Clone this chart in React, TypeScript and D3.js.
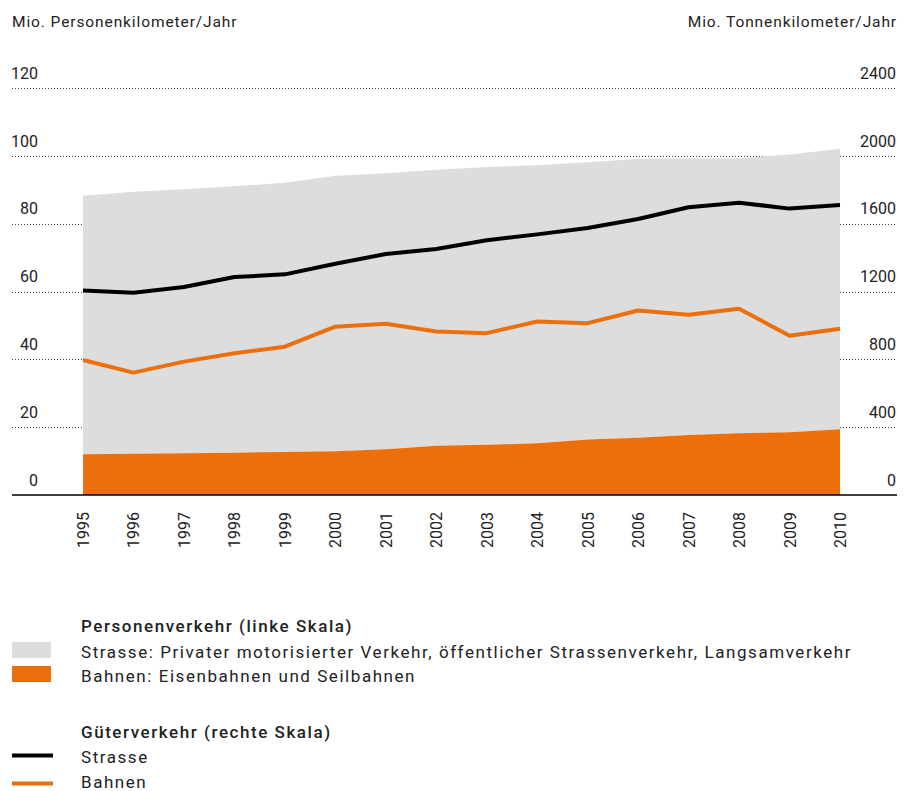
import React from "react";
import * as d3 from "d3";

const years = [1995, 1996, 1997, 1998, 1999, 2000, 2001, 2002, 2003, 2004, 2005, 2006, 2007, 2008, 2009, 2010];
// Personenverkehr (Mio. Personenkilometer/Jahr), left scale
const personRail = [12.0, 12.2, 12.3, 12.5, 12.7, 12.9, 13.5, 14.5, 14.8, 15.3, 16.4, 16.9, 17.7, 18.2, 18.5, 19.4];
const personRoad = [76.3, 77.3, 77.9, 78.6, 79.4, 81.3, 81.4, 81.5, 82.0, 82.0, 81.8, 82.3, 81.6, 81.1, 82.0, 82.8];
// Güterverkehr (Mio. Tonnenkilometer/Jahr), right scale
const freightRoad = [1207, 1193, 1227, 1286, 1302, 1365, 1422, 1452, 1503, 1538, 1576, 1629, 1698, 1725, 1690, 1712];
const freightRail = [797, 722, 787, 836, 875, 993, 1010, 965, 955, 1024, 1014, 1089, 1064, 1099, 940, 981];

const leftTicks = [0, 20, 40, 60, 80, 100, 120];
const rightTicks = [0, 400, 800, 1200, 1600, 2000, 2400];

const FONT = "Roboto, 'DejaVu Sans', sans-serif";
const GREY = "#dddddd";
const ORANGE = "#ec6f0b";
const TEXT = "#222222";

export default function App() {
  const W = 914, H = 791;
  const x = d3.scaleLinear().domain([1995, 2010]).range([83, 840]);
  const yL = d3.scaleLinear().domain([0, 120]).range([495, 88.3]);
  const yR = d3.scaleLinear().domain([0, 2400]).range([495, 88.3]);

  const rows = years.map((yr, i) => ({ yr, rail: personRail[i], road: personRoad[i] }));
  const stack = d3.stack<any>().keys(["rail", "road"])(rows);
  const area = d3.area<any>()
    .x((d: any) => x(d.data.yr))
    .y0((d: any) => yL(d[0]))
    .y1((d: any) => yL(d[1]));

  const lineR = d3.line<number>()
    .x((_, i) => x(years[i]))
    .y((v) => yR(v));

  const LS = 1.55;

  return (
    <svg width={W} height={H} style={{ position: "absolute", left: 0, top: 0 }} fontFamily={FONT}>
      <rect width={W} height={H} fill="#fff" />
      {/* axis titles */}
      <text x={12} y={26.5} fontSize={15.5} fill={TEXT} letterSpacing={0.9}>Mio. Personenkilometer/Jahr</text>
      <text x={897} y={26.5} fontSize={15.5} fill={TEXT} letterSpacing={0.9} textAnchor="end">Mio. Tonnenkilometer/Jahr</text>

      {/* gridlines */}
      {leftTicks.filter((t) => t > 0).map((t) => (
        <line key={t} x1={12} x2={896} y1={Math.round(yL(t)) + 0.5} y2={Math.round(yL(t)) + 0.5}
          stroke="#444" strokeWidth={1} strokeDasharray="1,2" />
      ))}

      {/* areas */}
      <path d={area(stack[1]) || ""} fill={GREY} />
      <path d={area(stack[0]) || ""} fill={ORANGE} />

      {/* lines */}
      <path d={lineR(freightRoad) || ""} fill="none" stroke="#000" strokeWidth={4} strokeLinejoin="round" />
      <path d={lineR(freightRail) || ""} fill="none" stroke={ORANGE} strokeWidth={4} strokeLinejoin="round" />

      {/* baseline */}
      <line x1={12} x2={897} y1={495} y2={495} stroke="#000" strokeWidth={1.5} />

      {/* tick labels */}
      {leftTicks.map((t) => (
        <text key={"l" + t} x={38} y={yL(t) - 9.5} fontSize={16} fill={TEXT} textAnchor="end">{t}</text>
      ))}
      {rightTicks.map((t) => (
        <text key={"r" + t} x={896} y={yR(t) - 9.5} fontSize={16} fill={TEXT} textAnchor="end">{t}</text>
      ))}
      {years.map((yr) => (
        <text key={yr} transform={`translate(${x(yr) + 6},512) rotate(-90)`} fontSize={16} fill={TEXT} textAnchor="end">{yr}</text>
      ))}

      {/* legend */}
      <text x={81} y={632} fontSize={17} fontWeight={500} fill={TEXT} letterSpacing={LS}>Personenverkehr (linke Skala)</text>
      <rect x={12} y={642} width={39} height={16} fill={GREY} />
      <text x={81} y={658} fontSize={17} fill={TEXT} letterSpacing={LS}>Strasse: Privater motorisierter Verkehr, öffentlicher Strassenverkehr, Langsamverkehr</text>
      <rect x={12} y={666} width={39} height={16} fill={ORANGE} />
      <text x={81} y={682} fontSize={17} fill={TEXT} letterSpacing={LS}>Bahnen: Eisenbahnen und Seilbahnen</text>

      <text x={81} y={738} fontSize={17} fontWeight={500} fill={TEXT} letterSpacing={LS}>Güterverkehr (rechte Skala)</text>
      <line x1={12} x2={53} y1={755.5} y2={755.5} stroke="#000" strokeWidth={4} />
      <text x={81} y={763} fontSize={17} fill={TEXT} letterSpacing={LS}>Strasse</text>
      <line x1={12} x2={53} y1={783.5} y2={783.5} stroke={ORANGE} strokeWidth={4} />
      <text x={81} y={788} fontSize={17} fill={TEXT} letterSpacing={LS}>Bahnen</text>
    </svg>
  );
}
